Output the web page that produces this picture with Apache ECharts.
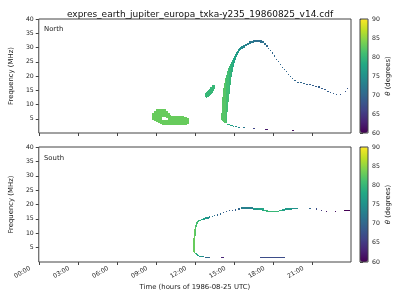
<!DOCTYPE html>
<html>
<head>
<meta charset="utf-8">
<script src="https://cdn.jsdelivr.net/npm/echarts@6/dist/echarts.min.js"></script>
<style>
html,body{margin:0;padding:0;background:#fff;}
#main{width:400px;height:300px;}
</style>
</head>
<body>
<div id="main"></div>
<script>
// ---- tick values / labels ----
const hourTicks = [0, 3, 6, 9, 12, 15, 18, 21];
const hourLabels = ['00:00', '03:00', '06:00', '09:00', '12:00', '15:00', '18:00', '21:00'];
const freqTicks = [5, 10, 15, 20, 25, 30, 35, 40];
const thetaTicks = [60, 65, 70, 75, 80, 85, 90];

// ---- data: [t start (h), t end (h), f low (MHz), f high (MHz), theta (deg)] ----
const northBlob = [
  [8.70, 8.85, 4.56, 7.02, 83], [8.85, 9.00, 4.04, 7.89, 83], [9.00, 9.15, 3.86, 8.25, 83],
  [9.15, 9.30, 3.68, 8.42, 83], [9.30, 9.45, 3.33, 8.42, 83],
  [9.45, 9.60, 2.98, 4.39, 83], [9.45, 9.60, 5.44, 8.42, 83],
  [9.60, 9.75, 2.81, 4.39, 83], [9.60, 9.75, 5.44, 8.25, 83],
  [9.75, 9.90, 2.81, 4.56, 83], [9.75, 9.90, 5.26, 7.89, 83],
  [9.90, 10.05, 2.81, 7.02, 83], [10.05, 10.20, 2.81, 6.32, 83], [10.20, 10.43, 2.81, 6.14, 83],
  [10.43, 10.80, 2.81, 5.96, 83], [10.80, 11.18, 2.81, 5.79, 83], [11.18, 11.40, 2.98, 5.61, 83],
  [11.40, 11.55, 3.16, 5.09, 83]
];
const northPatch = [
  [12.75, 12.83, 12.46, 13.86, 80], [12.83, 12.90, 12.28, 14.39, 80], [12.90, 12.98, 12.46, 14.74, 80],
  [12.98, 13.05, 12.63, 15.09, 80], [13.05, 13.13, 12.98, 15.44, 80], [13.13, 13.20, 13.33, 15.79, 80],
  [13.20, 13.28, 13.68, 16.14, 80], [13.28, 13.35, 14.04, 16.49, 80], [13.35, 13.43, 14.39, 16.67, 80],
  [13.43, 13.50, 14.91, 16.67, 80], [13.50, 13.58, 15.44, 16.67, 80]
];
const northArc = [
  [14.03, 14.10, 4.56, 7.02, 82], [14.10, 14.18, 4.21, 12.63, 82], [14.18, 14.25, 3.86, 15.79, 82],
  [14.25, 14.33, 3.68, 17.54, 82], [14.33, 14.40, 3.51, 19.30, 82], [14.40, 14.48, 3.40, 20.35, 81],
  [14.48, 14.55, 7.37, 21.75, 81], [14.55, 14.63, 10.88, 22.81, 81], [14.63, 14.70, 13.68, 23.51, 80],
  [14.70, 14.78, 16.84, 24.21, 80], [14.78, 14.85, 19.65, 24.91, 79], [14.85, 14.93, 21.40, 25.61, 79],
  [14.93, 15.00, 23.16, 26.32, 78], [15.00, 15.08, 24.56, 27.02, 78], [15.08, 15.15, 25.61, 27.72, 77],
  [15.15, 15.23, 26.67, 28.42, 77], [15.23, 15.30, 27.37, 28.77, 76], [15.30, 15.38, 28.07, 29.30, 76],
  [15.38, 15.45, 28.60, 29.82, 75], [15.45, 15.53, 28.95, 30.18, 75], [15.53, 15.68, 29.30, 30.53, 74],
  [15.68, 15.83, 29.82, 30.88, 74], [15.83, 15.98, 30.53, 31.40, 73], [15.98, 16.13, 30.88, 31.75, 73],
  [16.13, 16.28, 31.23, 32.11, 72], [16.28, 16.43, 31.58, 32.28, 72], [16.43, 16.58, 31.75, 32.46, 72],
  [16.58, 16.73, 31.93, 32.63, 71], [16.73, 16.88, 31.93, 32.63, 71], [16.88, 17.03, 31.93, 32.63, 71],
  [17.03, 17.18, 31.75, 32.46, 71], [17.18, 17.29, 31.58, 32.11, 71], [17.33, 17.44, 31.05, 31.58, 71],
  [17.48, 17.59, 30.35, 30.88, 70], [17.63, 17.70, 29.47, 30.00, 70], [17.78, 17.85, 28.60, 29.12, 70],
  [17.93, 18.00, 27.89, 28.42, 70], [18.08, 18.15, 26.84, 27.37, 70], [18.23, 18.30, 25.61, 26.14, 70],
  [18.38, 18.45, 24.74, 25.09, 70], [18.53, 18.60, 23.86, 24.21, 70], [18.68, 18.75, 22.98, 23.33, 70],
  [18.83, 18.90, 22.11, 22.46, 70], [18.98, 19.05, 21.23, 21.58, 70], [19.13, 19.20, 20.35, 20.70, 70],
  [19.28, 19.35, 19.65, 20.00, 70], [19.43, 19.50, 18.95, 19.30, 70], [19.65, 19.80, 18.25, 18.60, 70],
  [19.88, 20.03, 17.72, 18.07, 70], [20.10, 20.25, 17.37, 17.72, 70], [20.33, 20.48, 17.02, 17.37, 70],
  [20.55, 20.70, 16.84, 17.19, 69], [20.78, 20.93, 16.67, 17.02, 69], [21.00, 21.15, 16.49, 16.84, 69],
  [21.23, 21.38, 16.14, 16.49, 69], [21.45, 21.60, 15.96, 16.32, 69], [21.68, 21.83, 15.61, 15.96, 69],
  [21.90, 22.05, 15.09, 15.44, 69], [22.13, 22.28, 14.56, 14.91, 69], [22.35, 22.43, 14.04, 14.39, 69],
  [22.58, 22.65, 13.51, 13.86, 69], [22.88, 22.95, 13.16, 13.51, 69], [23.18, 23.25, 13.16, 13.51, 68],
  [23.55, 23.63, 14.56, 14.91, 68], [23.70, 23.78, 15.44, 15.79, 68]
];
const northLow = [
  [14.48, 14.55, 2.98, 3.33, 79], [14.55, 14.63, 2.81, 3.16, 79], [14.63, 14.70, 2.81, 3.16, 78],
  [14.70, 14.78, 2.63, 2.98, 78], [14.78, 14.85, 2.46, 2.81, 77], [14.85, 14.93, 2.46, 2.81, 77],
  [14.93, 15.00, 2.28, 2.63, 76], [15.08, 15.23, 2.11, 2.46, 75], [15.30, 15.45, 1.93, 2.28, 74],
  [15.68, 15.83, 1.75, 2.11, 72], [16.43, 16.65, 1.40, 1.75, 66], [17.40, 17.63, 1.05, 1.40, 62],
  [19.43, 19.50, 0.70, 1.05, 61], [19.58, 19.65, 0.70, 1.05, 61]
];
const southArc = [
  [11.85, 11.93, 3.48, 8.35, 83], [11.93, 12.00, 3.13, 11.48, 83], [12.00, 12.08, 9.04, 12.87, 82],
  [12.08, 12.15, 12.17, 13.74, 81], [12.15, 12.23, 13.22, 14.26, 81], [12.23, 12.30, 13.74, 14.61, 80],
  [12.30, 12.45, 14.26, 14.78, 79], [12.45, 12.60, 14.61, 15.13, 78], [12.60, 12.75, 14.78, 15.30, 77],
  [12.75, 12.90, 14.96, 15.48, 76], [12.90, 13.05, 15.13, 15.65, 75], [13.05, 13.20, 15.30, 15.83, 74],
  [13.28, 13.35, 15.48, 16.00, 72], [13.50, 13.58, 15.83, 16.35, 71], [13.73, 13.80, 16.17, 16.70, 70],
  [13.95, 14.03, 16.52, 17.04, 70], [14.18, 14.25, 16.87, 17.39, 69], [14.40, 14.48, 17.22, 17.74, 69],
  [14.63, 14.70, 17.57, 18.09, 69], [14.85, 14.93, 17.74, 18.26, 69], [15.08, 15.15, 17.91, 18.43, 69],
  [15.30, 15.45, 18.09, 18.61, 70], [15.53, 16.43, 18.43, 18.96, 73], [16.43, 16.88, 18.26, 18.78, 76],
  [16.88, 17.18, 18.09, 18.61, 77], [17.18, 17.33, 17.91, 18.61, 78], [17.33, 17.48, 17.74, 18.26, 79],
  [17.48, 17.63, 17.39, 18.09, 80], [17.63, 18.45, 17.22, 17.91, 80], [18.45, 18.68, 17.57, 18.09, 79],
  [18.68, 18.90, 17.91, 18.43, 77], [18.90, 19.43, 18.26, 18.61, 76], [19.43, 19.95, 18.43, 18.78, 75],
  [20.78, 20.93, 18.43, 18.78, 70], [21.30, 21.38, 18.26, 18.61, 67], [21.68, 21.75, 17.91, 18.26, 65],
  [22.05, 22.13, 17.57, 17.91, 62], [22.80, 22.88, 17.57, 17.91, 61], [23.48, 23.93, 17.91, 18.26, 60]
];
const southLow = [
  [12.00, 12.08, 2.78, 3.30, 80], [12.08, 12.15, 2.43, 2.96, 79], [12.15, 12.23, 2.26, 2.61, 78],
  [12.23, 12.30, 2.09, 2.43, 77], [12.30, 12.53, 1.91, 2.26, 76], [12.53, 12.68, 1.74, 2.09, 74],
  [12.75, 13.13, 1.57, 1.91, 70], [14.03, 14.25, 1.22, 1.57, 63], [17.03, 18.90, 1.22, 1.57, 67]
];

const viridis = ['#440154', '#482475', '#414487', '#355f8d', '#2a788e', '#21918c',
                 '#22a884', '#42be71', '#7ad151', '#bddf26', '#fde725'];
const FONT = 'DejaVu Sans';
const INK = '#222';
const FRAME = '#444';

function cell(params, api) {
  const a = api.coord([api.value(0), api.value(2)]);
  const b = api.coord([api.value(1), api.value(3)]);
  let x0 = Math.round(Math.min(a[0], b[0]));
  let x1 = Math.round(Math.max(a[0], b[0]));
  let y0 = Math.round(Math.min(a[1], b[1]));
  let y1 = Math.round(Math.max(a[1], b[1]));
  if (x1 - x0 < 1) x1 = x0 + 1;
  if (y1 - y0 < 1) y1 = y0 + 1;
  return { type: 'rect', shape: { x: x0, y: y0, width: x1 - x0, height: y1 - y0 },
           style: { fill: api.visual('color') } };
}
function mkSeries(data, panel) {
  return { type: 'custom', renderItem: cell, data: data, xAxisIndex: panel, yAxisIndex: panel,
           encode: { x: [0, 1], y: [2, 3] }, clip: true, silent: true };
}

const plotGrids = [
  { left: 31, top: 19, width: 320, height: 114 },
  { left: 31, top: 147, width: 320, height: 115 }
];
const cbGrids = [
  { left: 360, top: 19, width: 8, height: 114 },
  { left: 360, top: 147, width: 8, height: 115 }
];

function timeAxis(i, showLabels) {
  return {
    type: 'value', gridIndex: i, min: 0, max: 24,
    axisLine: { show: false },
    splitLine: { show: false },
    axisTick: { show: true, customValues: hourTicks, length: 3, lineStyle: { color: FRAME, width: 1 } },
    axisLabel: {
      show: showLabels, customValues: hourTicks, rotate: 30, margin: 1,
      padding: [0, 10, 0, 0],
      fontFamily: FONT, fontSize: 6.2, color: INK,
      formatter: v => hourLabels[hourTicks.indexOf(v)] || ''
    },
    name: showLabels ? 'Time (hours of 1986-08-25 UTC)' : '',
    nameLocation: 'middle', nameGap: 22,
    nameTextStyle: { fontFamily: FONT, fontSize: 6.9, color: INK }
  };
}
function freqAxis(i) {
  return {
    type: 'value', gridIndex: i, min: 0, max: 40,
    axisLine: { show: false }, splitLine: { show: false },
    axisTick: { show: true, customValues: freqTicks, length: 3, lineStyle: { color: FRAME, width: 1 } },
    axisLabel: { customValues: freqTicks, margin: 5, fontFamily: FONT, fontSize: 6.2, color: INK },
    name: 'Frequency (MHz)', nameLocation: 'middle', nameGap: 18,
    nameTextStyle: { fontFamily: FONT, fontSize: 6.9, color: INK }
  };
}
function thetaAxis(i) {
  return {
    type: 'value', gridIndex: i, min: 60, max: 90, position: 'right',
    axisLine: { show: false }, splitLine: { show: false },
    axisTick: { show: true, customValues: thetaTicks, length: 3, lineStyle: { color: FRAME, width: 1 } },
    axisLabel: { customValues: thetaTicks, margin: 4, fontFamily: FONT, fontSize: 6.2, color: INK },
    name: '{i|θ} (degrees)', nameLocation: 'middle', nameGap: 17, nameRotate: 90,
    nameTextStyle: { fontFamily: FONT, fontSize: 6.9, color: INK,
                     rich: { i: { fontStyle: 'italic', fontFamily: FONT, fontSize: 6.9, color: INK } } }
  };
}

const option = {
  animation: false,
  backgroundColor: '#fff',
  title: [
    { text: 'expres_earth_jupiter_europa_txka-y235_19860825_v14.cdf', left: 'center', top: 5,
      textStyle: { fontFamily: FONT, fontSize: 9, fontWeight: 'normal', color: '#111' } },
    { text: 'North', left: 44, top: 26, padding: 0,
      textStyle: { fontFamily: FONT, fontSize: 6.9, fontWeight: 'normal', color: INK } },
    { text: 'South', left: 44, top: 155, padding: 0,
      textStyle: { fontFamily: FONT, fontSize: 6.9, fontWeight: 'normal', color: INK } }
  ],
  grid: [
    ...plotGrids.map(g => Object.assign({ show: true, borderColor: FRAME, borderWidth: 1, backgroundColor: 'transparent', z: 5 }, g)),
    ...cbGrids.map(g => Object.assign({ show: true, borderColor: FRAME, borderWidth: 1, backgroundColor: 'transparent', z: 5 }, g))
  ],
  xAxis: [
    timeAxis(0, false), timeAxis(1, true),
    { type: 'value', gridIndex: 2, min: 0, max: 1, show: false },
    { type: 'value', gridIndex: 3, min: 0, max: 1, show: false }
  ],
  yAxis: [freqAxis(0), freqAxis(1), thetaAxis(2), thetaAxis(3)],
  visualMap: [
    { type: 'continuous', min: 60, max: 90, dimension: 4, seriesIndex: [0, 1, 2, 3],
      inRange: { color: viridis }, calculable: false, text: null, padding: 0,
      itemWidth: 8, itemHeight: 114, left: 360, top: 19, orient: 'vertical', hoverLink: false },
    { type: 'continuous', min: 60, max: 90, dimension: 4, seriesIndex: [4, 5],
      inRange: { color: viridis }, calculable: false, text: null, padding: 0,
      itemWidth: 8, itemHeight: 115, left: 360, top: 147, orient: 'vertical', hoverLink: false }
  ],
  series: [
    mkSeries(northBlob, 0), mkSeries(northPatch, 0), mkSeries(northArc, 0), mkSeries(northLow, 0),
    mkSeries(southArc, 1), mkSeries(southLow, 1)
  ]
};

const chart = echarts.init(document.getElementById('main'));
chart.setOption(option);
</script>
</body>
</html>
